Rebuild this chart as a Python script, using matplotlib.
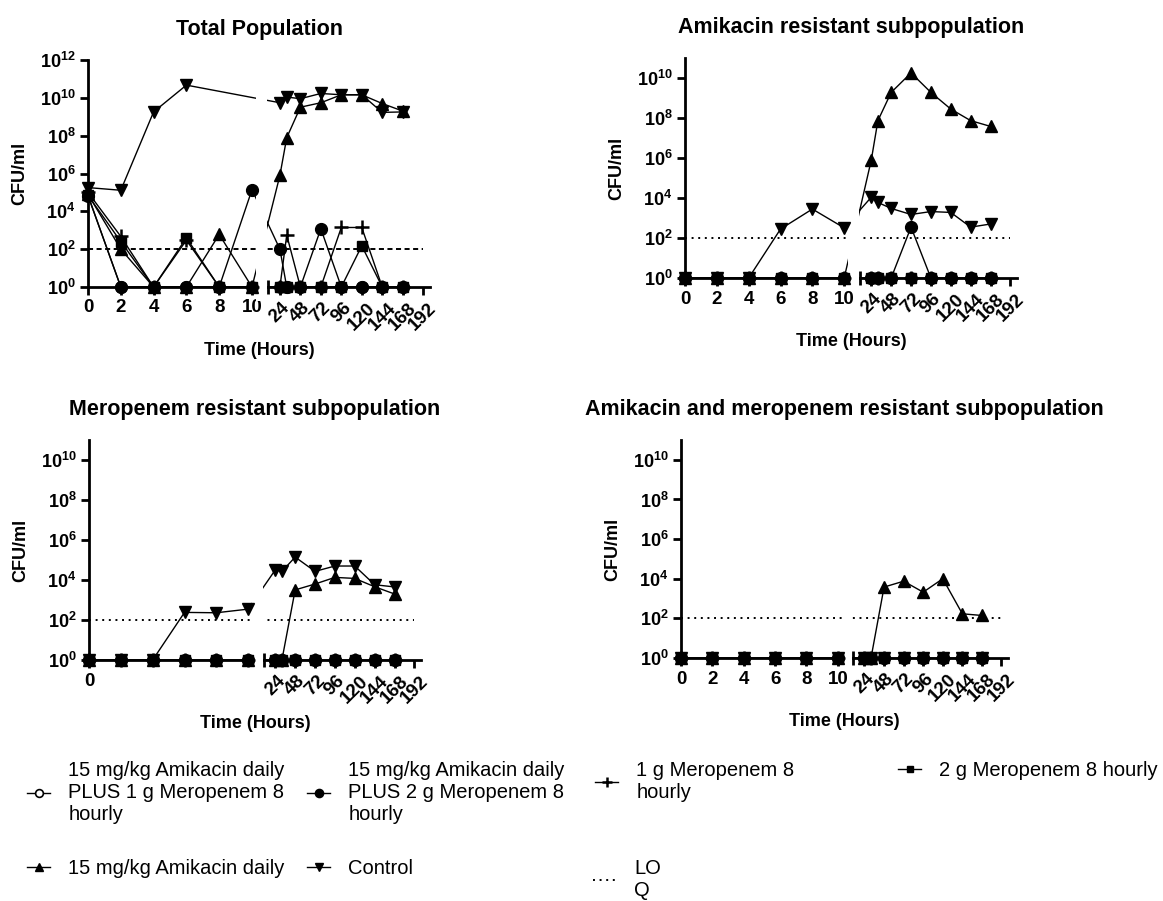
import numpy as np
import matplotlib
matplotlib.use("Agg")
import matplotlib.pyplot as plt
from matplotlib.patches import Rectangle
from matplotlib.ticker import NullLocator

plt.rcParams['font.family'] = 'Liberation Sans'
plt.rcParams['mathtext.fontset'] = 'custom'
plt.rcParams['mathtext.bf'] = 'Liberation Sans:bold'
plt.rcParams['mathtext.rm'] = 'Liberation Sans'
plt.rcParams['mathtext.default'] = 'bf'

nan = np.nan

# sampling times (hours)
hours = [0, 2, 4, 6, 8, 10, 24, 32, 48, 72, 96, 120, 144, 168]
left_ticks = [0, 2, 4, 6, 8, 10]
right_ticks = [24, 48, 72, 96, 120, 144, 168, 192]
loq = 100
loq_x = [0, 192]

ones = [1] * 14

# Total population (CFU/ml)
tot_combo1 = [7e4, 1, 1, 1, 1, 1, 1, 1, 1, 1, 1, 1, 1, 1]
tot_combo2 = [6.7e4, 1, 1, 1, 1, 1.4e5, 1e2, 1, 1, 1.2e3, 1, 1, 1, 1]
tot_mero1 = [1e5, 4.7e2, 1, 3e2, 1, 1, 1, 5.6e2, 1, 1, 1.4e3, 1.4e3, 1, 1]
tot_mero2 = [7e4, 2.5e2, 1, 4e2, 1, 1, 1, 1, 1, 1, 1, 1.5e2, 1, 1]
tot_amik = [8e4, 1e2, 1, 1, 6e2, 1, 8e5, 7.8e7, 3.2e9, 5.5e9, 1.45e10, 1.45e10, 5e9, 2e9]
tot_ctrl = [1.8e5, 1.3e5, 1.8e9, 4.7e10, nan, nan, 5.5e9, 1.1e10, 9e9, 1.7e10, 1.45e10, 1.45e10, 1.7e9, 1.8e9]

# Amikacin resistant subpopulation
ami_combo2 = [1, 1, 1, 1, 1, 1, 1, 1, 1, 3.5e2, 1, 1, 1, 1]
ami_amik = [1, 1, 1, 1, 1, 1, 8e5, 7.4e7, 1.9e9, 1.8e10, 1.9e9, 2.8e8, 7.4e7, 3.8e7]
ami_ctrl = [1, 1, 1, 2.8e2, 2.8e3, 3.2e2, 1.1e4, 6e3, 3e3, 1.5e3, 2.1e3, 1.9e3, 3.5e2, 5e2]

# Meropenem resistant subpopulation
mer_amik = [1, 1, 1, 1, 1, 1, 1, 1, 3.2e3, 6.3e3, 1.35e4, 1.2e4, 4.6e3, 2e3]
mer_ctrl = [1, 1, 1, 2.4e2, 2.3e2, 3.5e2, 3.2e4, 2.7e4, 1.4e5, 2.7e4, 5e4, 5e4, 5.8e3, 4.5e3]

# Amikacin and meropenem resistant subpopulation
both_amik = [1, 1, 1, 1, 1, 1, 1, 1, 3.8e3, 7.5e3, 2.1e3, 1e4, 1.7e2, 1.4e2]

labels = {
    'combo1': "15 mg/kg Amikacin daily\nPLUS 1 g Meropenem 8\nhourly",
    'combo2': "15 mg/kg Amikacin daily\nPLUS 2 g Meropenem 8\nhourly",
    'mero1': "1 g Meropenem 8\nhourly",
    'mero2': "2 g Meropenem 8 hourly",
    'amik': "15 mg/kg Amikacin daily",
    'ctrl': "Control",
    'loq': "LO\nQ",
}

styles = {
    'combo1': dict(marker='o', mfc='white', ms=8, mew=1.2),
    'mero2': dict(marker='s', ms=7),
    'mero1': dict(marker='+', ms=9.5, mew=1.8),
    'amik': dict(marker='^', ms=8),
    'ctrl': dict(marker='v', ms=8),
    'combo2': dict(marker='o', ms=8.5),
}

# broken x axis: 0-10 h, then 10.5-200 h compressed
RS = 10.5
K = 0.052


def fwd(x):
    x = np.asarray(x, float)
    return np.where(x <= 10, x, np.where(x <= RS, 10 + (x - 10) / (RS - 10), 11 + (x - RS) * K))


def inv(u):
    u = np.asarray(u, float)
    return np.where(u <= 10, u, np.where(u <= 11, 10 + (u - 10) * (RS - 10), RS + (u - 11) / K))


W, H = 1163, 901
fig = plt.figure(figsize=(W / 100, H / 100), dpi=100)


def panel(rect_px, title, series, ytop_exp, dashed, left_labels=True):
    x0, x1, ytop, ybot = rect_px
    wpx, hpx = x1 - x0, ybot - ytop
    ax = fig.add_axes([x0 / W, 1 - ybot / H, wpx / W, hpx / H])
    ax.set_xscale('function', functions=(fwd, inv))
    ax.set_yscale('log')

    x = np.array(hours, float)
    handles = {}
    for key in ['combo1', 'mero2', 'mero1', 'amik', 'ctrl', 'combo2']:
        y = np.array(series.get(key, ones), float)
        ok = ~np.isnan(y)
        ln, = ax.plot(x[ok], y[ok], color='black', lw=1.0, zorder=2)
        mk, = ax.plot(x[ok], y[ok], ls='none', color='black', zorder=4,
                      clip_on=False, **styles[key])
        handles[key] = (ln, mk)

    ls = (0, (2.6, 1.8)) if dashed else (0, (1, 2.4))
    lq, = ax.plot(loq_x, [loq, loq], color='black', lw=1.4, ls=ls, zorder=2)
    handles['loq'] = lq

    # hide the gap between the two axis segments
    ax.add_patch(Rectangle((10.12, -0.06), 10.45 - 10.12, 1.12,
                           transform=ax.get_xaxis_transform(), fc='white',
                           ec='none', zorder=3, clip_on=False))

    ax.set_xlim(0, 200)
    ax.set_ylim(1, 10.0 ** ytop_exp)

    xt = (left_ticks if left_labels else [0]) + right_ticks
    ax.set_xticks(xt)
    ax.set_xticklabels([str(t) for t in xt])
    for lab, t in zip(ax.get_xticklabels(), xt):
        lab.set_fontweight('bold')
        if t > 10:
            lab.set_rotation(45)
    ax.set_xticks([RS], minor=True)
    ax.tick_params(axis='x', which='minor', direction='inout', length=10, width=2)

    ytk = list(range(0, ytop_exp + 1, 2))
    ax.set_yticks([10.0 ** k for k in ytk])
    ax.set_yticklabels([rf'$10^{{{k}}}$' for k in ytk])
    ax.yaxis.set_minor_locator(NullLocator())
    ax.tick_params(axis='both', which='major', direction='out', length=6, width=2, pad=3)
    ax.tick_params(axis='x', which='major', labelsize=13.5)
    ax.tick_params(axis='y', which='major', labelsize=13)

    ax.spines[['top', 'right']].set_visible(False)
    ax.spines[['left', 'bottom']].set_linewidth(2)

    ax.set_title(title, fontsize=15.5, fontweight='bold', pad=18)
    ax.set_xlabel('Time (Hours)', fontsize=13, fontweight='bold')
    ax.set_ylabel('CFU/ml', fontsize=13, fontweight='bold')
    ax.xaxis.set_label_coords(0.5, -55 / hpx)
    ax.yaxis.set_label_coords(-60 / wpx, 0.5)
    return handles


h_tot = panel((88, 430, 60, 287), 'Total Population',
              {'combo1': tot_combo1, 'combo2': tot_combo2, 'mero1': tot_mero1,
               'mero2': tot_mero2, 'amik': tot_amik, 'ctrl': tot_ctrl}, 12, True)
h_ami = panel((685, 1017, 58, 278), 'Amikacin resistant subpopulation',
              {'combo2': ami_combo2, 'amik': ami_amik, 'ctrl': ami_ctrl}, 11, False)
panel((89, 421, 440, 660), 'Meropenem resistant subpopulation',
      {'amik': mer_amik, 'ctrl': mer_ctrl}, 11, False, left_labels=False)
panel((681, 1008, 440, 658), 'Amikacin and meropenem resistant subpopulation',
      {'amik': both_amik}, 11, False)

# legend, one entry per slot as in the original layout
slots = [
    ('combo1', 27, 761), ('combo2', 307, 761), ('mero1', 595, 761), ('mero2', 898, 761),
    ('amik', 27, 859), ('ctrl', 307, 859), ('loq', 593, 859),
]
for key, lx, ly in slots:
    h = h_ami['loq'] if key == 'loq' else h_tot[key]
    fig.legend(handles=[h], labels=[labels[key]], loc='upper left',
               bbox_to_anchor=(lx / W, 1 - ly / H), frameon=False, borderpad=0,
               borderaxespad=0, handlelength=1.15, handletextpad=0.9,
               fontsize=14.5, markerscale=0.7)

fig.savefig('out.png', dpi=100)
